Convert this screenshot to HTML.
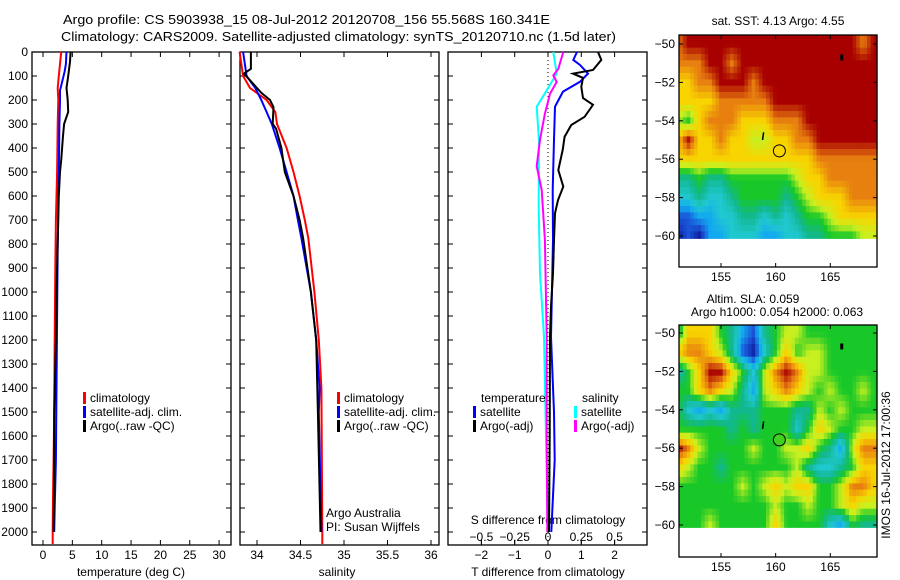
<!DOCTYPE html>
<html><head><meta charset="utf-8"><style>
body{margin:0;background:#fff}
svg{display:block;font-family:"Liberation Sans",sans-serif;font-size:12px}
</style></head><body>
<svg id="fig" width="900" height="580" xmlns="http://www.w3.org/2000/svg">
<rect width="900" height="580" fill="#fff"/>
<text x="63" y="24" font-size="13" textLength="487" lengthAdjust="spacingAndGlyphs">Argo profile: CS 5903938_15 08-Jul-2012 20120708_156 55.568S 160.341E</text>
<text x="61" y="41" font-size="13" textLength="555" lengthAdjust="spacingAndGlyphs">Climatology: CARS2009. Satellite-adjusted climatology: synTS_20120710.nc (1.5d later)</text>
<g id="g"></g>
</svg>
<script>
// ---- data ----
const tDepth=[0,50,100,150,200,300,500,700,900,1200,1500,1700,1850,2000,2050];
const tClim=[3.1,2.9,2.7,2.5,2.6,2.5,2.4,2.2,2.1,2.0,1.9,1.8,1.7,1.65,1.65];
const tSatDepth=[0,50,80,120,160,200,300,500,800,1100,1400,1700,1900,2000];
const tSat=[4.0,3.9,3.7,3.3,2.9,2.9,2.8,2.7,2.5,2.4,2.3,2.2,2.0,1.9];
const tArgoDepth=[0,40,80,100,150,200,250,300,350,450,500,600,800,1000,1200,1500,1800,2000];
const tArgo=[4.7,4.6,4.4,4.3,4.0,4.2,4.3,3.6,3.4,3.1,2.9,2.7,2.5,2.3,2.2,1.9,1.9,1.8];
const sClimDepth=[0,100,150,200,250,300,400,500,600,700,775,1000,1200,1400,2000,2050];
const sClim=[33.80,33.84,33.92,34.11,34.21,34.23,34.34,34.42,34.49,34.55,34.59,34.66,34.71,34.74,34.75,34.75];
const sSatDepth=[0,100,150,200,250,300,400,500,600,700,775,1000,1200,1400,1500,2000];
const sSat=[33.84,33.88,33.98,34.05,34.11,34.17,34.26,34.34,34.42,34.47,34.51,34.62,34.68,34.72,34.71,34.74];
const sArgoDepth=[0,70,90,110,150,170,200,230,300,320,400,500,600,700,775,1000,1200,1500,2000];
const sArgo=[33.93,33.93,33.85,33.90,34.0,34.05,34.15,34.19,34.18,34.22,34.28,34.32,34.42,34.49,34.53,34.62,34.68,34.70,34.73];
const dTArgoDepth=[0,33,75,90,108,145,192,220,270,304,353,408,492,561,617,672,783,922,1061,1187,1600,2000];
const dTArgo=[1.5,1.6,1.35,0.75,1.05,1.0,1.05,1.35,1.1,0.7,0.5,0.44,0.31,0.46,0.3,0.21,0.18,0.15,0.09,0.06,0.05,0.03];
const dTSatDepth=[0,33,54,90,124,165,228,365,575,783,1187,1500,1700,2000];
const dTSat=[0.87,0.76,0.96,1.2,0.96,0.45,0.21,0.18,0.14,0.15,0.09,0.18,0.2,0.1];
const dSSatDepth=[0,90,160,228,365,644,922,1187,1600,2000];
const dSSat=[0.04,0.065,-0.01,-0.085,-0.068,-0.07,-0.06,-0.03,-0.015,0.0];
const dSArgoDepth=[0,70,97,125,174,257,365,476,575,783,1187,1600,2000];
const dSArgo=[0.115,0.077,0.04,0.065,0.015,-0.023,-0.06,-0.085,-0.047,-0.023,-0.01,-0.01,-0.005];
const depthTicks=[0,100,200,300,400,500,600,700,800,900,1000,1100,1200,1300,1400,1500,1600,1700,1800,1900,2000];
const tTicks=[0,5,10,15,20,25,30];
const sTicks=[34,34.5,35,35.5,36];
const sTickLabels=["34","34.5","35","35.5","36"];
const dTTicks=[-2,-1,0,1,2];
const dSTicks=[-0.5,-0.25,0,0.25,0.5];
const dSTickLabels=["-0.5","-0.25","0","0.25","0.5"];
const lonTicks=[155,160,165];
const latTicks=[-50,-52,-54,-56,-58,-60];
const mapLons=[151,152,153,154,155,156,157,158,159,160,161,162,163,164,165,166,167,168,169];
const mapLats=[-50,-51,-52,-53,-54,-55,-56,-57,-58,-59,-60];
const sstGrid=[
[8,9,9,9,9,9,9,9,9,9,9,9,9,9,9,9,9,8,9],
[8,8,8,9,9,8,9,9,9,9,9,9,9,9,9,9,9,9,9],
[7,7,8,8,9,9,9,8,9,9,9,9,9,9,9,9,9,9,9],
[7,7,7,7,8,8,8,8,8,9,9,9,9,9,9,9,9,9,9],
[6,5,7,8,8,8,7,7,7,8,8,8,9,9,9,9,9,9,9],
[7,9,7,7,8,7,7,6,6,7,7,8,8,9,9,9,9,9,9],
[7,7,7,7,7,7,7,7,7,7,7,7,7,8,8,8,8,8,8],
[4,4,5,4,4,5,5,5,5,5,5,6,7,7,8,8,8,8,8],
[3,3,4,3,3,4,5,5,5,5,4,5,6,7,7,7,8,8,8],
[1,1,2,2,3,3,4,4,3,4,3,4,5,5,6,7,7,7,7],
[0,1,0,2,2,3,3,3,2,2,3,3,4,4,5,5,5,6,6]];
const slaGrid=[
[4,7,7,7,5,4,2,1,4,5,6,6,5,5,5,5,5,5,5],
[7,8,8,7,6,4,1,0,3,5,7,5,6,6,5,5,5,5,5],
[3,5,7,9,9,7,5,3,6,8,9,8,6,6,5,5,5,5,5],
[5,5,7,8,7,6,4,2,6,7,8,7,6,5,6,5,5,6,5],
[5,3,2,3,2,4,4,4,5,5,5,4,4,6,5,6,5,5,5],
[5,5,5,5,5,4,5,4,5,5,5,3,5,7,6,5,5,6,6],
[9,8,6,5,5,5,5,6,5,5,6,6,7,5,4,2,6,8,8],
[7,6,5,5,4,5,5,5,5,5,5,6,4,3,3,4,5,7,7],
[5,5,5,5,5,5,6,5,6,7,6,7,7,5,5,6,8,8,7],
[5,5,5,5,5,5,5,5,5,6,5,5,6,5,5,6,7,6,6],
[5,5,5,6,5,5,5,5,5,7,5,5,5,5,3,2,5,4,4]];
const argoLon=160.341, argoLat=-55.568;
const cmap=["#0a1a9a","#1a55d8","#12a8f0","#20c8d0","#12b890","#18c828","#c8f020","#f8d400","#e88010","#a80000"];
</script>
<script>
const NS="http://www.w3.org/2000/svg";
const G=document.getElementById('g');
function mk(tag,attrs,parent){const e=document.createElementNS(NS,tag);for(const k in attrs)e.setAttribute(k,attrs[k]);(parent||G).appendChild(e);return e;}
function txt(x,y,s,anchor,size){const e=mk('text',{x:x,y:y,'text-anchor':anchor||'start','font-size':size||12});e.textContent=s;return e;}
const Y0=52, PY=0.24, TOP=52, BOT=545;
const yD=d=>Y0+d*PY;
const xT=t=>43+5.87*t;
const xS=s=>257+87*(s-34);
const xDT=t=>548+33.3*t;
const xDS=s=>548+133.2*s;
function line(xs,ds,fx,color,name){
  const p=xs.map((v,i)=>fx(v).toFixed(1)+','+yD(ds[i]).toFixed(1)).join(' ');
  const e=mk('polyline',{points:p,fill:'none',stroke:color,'stroke-width':2});
  
  
}
function panel(x0,x1,name){
  const r=mk('rect',{x:x0,y:TOP,width:x1-x0,height:BOT-TOP,fill:'none',stroke:'#000','stroke-width':1.3});
  
  
  depthTicks.forEach(d=>{mk('line',{x1:x0,x2:x0+5,y1:yD(d),y2:yD(d),stroke:'#000'});mk('line',{x1:x1-5,x2:x1,y1:yD(d),y2:yD(d),stroke:'#000'});});
}
panel(32,231,'temperature-panel');
depthTicks.forEach(d=>{const e=txt(28,yD(d)+4,String(d),'end');});
tTicks.forEach(t=>{mk('line',{x1:xT(t),x2:xT(t),y1:TOP,y2:TOP+5,stroke:'#000'});mk('line',{x1:xT(t),x2:xT(t),y1:BOT-5,y2:BOT,stroke:'#000'});const e=txt(xT(t),559,String(t),'middle');});
{const e=txt(131,576,'temperature (deg C)','middle');}
line(tClim,tDepth,xT,'#f00','temp-climatology-line');
line(tSat,tSatDepth,xT,'#00f','temp-satellite-line');
line(tArgo,tArgoDepth,xT,'#000','temp-argo-line');
panel(240,439,'salinity-panel');
sTicks.forEach((s,i)=>{mk('line',{x1:xS(s),x2:xS(s),y1:TOP,y2:TOP+5,stroke:'#000'});mk('line',{x1:xS(s),x2:xS(s),y1:BOT-5,y2:BOT,stroke:'#000'});const e=txt(xS(s),559,sTickLabels[i],'middle');});
{const e=txt(337,576,'salinity','middle');}
line(sClim,sClimDepth,xS,'#f00','sal-climatology-line');
line(sSat,sSatDepth,xS,'#00f','sal-satellite-line');
line(sArgo,sArgoDepth,xS,'#000','sal-argo-line');
panel(448,647,'difference-panel');
mk('line',{x1:xDT(0),x2:xDT(0),y1:TOP,y2:BOT,stroke:'#000','stroke-dasharray':'1,3'});
dTTicks.forEach(t=>{mk('line',{x1:xDT(t),x2:xDT(t),y1:TOP,y2:TOP+5,stroke:'#000'});mk('line',{x1:xDT(t),x2:xDT(t),y1:BOT-5,y2:BOT,stroke:'#000'});const e=txt(xDT(t),559,String(t).replace('-','−'),'middle');});
dSTicks.forEach((s,i)=>{mk('line',{x1:xDS(s),x2:xDS(s),y1:BOT-5,y2:BOT-1,stroke:'#000'});const e=txt(xDS(s),541,dSTickLabels[i].replace('-','−'),'middle');});
{const e=txt(548,524,'S difference from climatology','middle');}
{const e=txt(548,576,'T difference from climatology','middle');}
line(dSSat,dSSatDepth,xDS,'#0ff','s-diff-satellite-line');
line(dSArgo,dSArgoDepth,xDS,'#f0f','s-diff-argo-line');
line(dTSat,dTSatDepth,xDT,'#00f','t-diff-satellite-line');
line(dTArgo,dTArgoDepth,xDT,'#000','t-diff-argo-line');
function leg(x,y,color,label,name){const r=mk('rect',{x:x,y:y-10,width:3,height:12,fill:color});const e=txt(x+7,y,label);}
leg(83,402,'#f00','climatology','legend-climatology-t');
leg(83,416,'#00f','satellite-adj. clim.','legend-satellite-t');
leg(83,430,'#000','Argo(..raw -QC)','legend-argo-t');
leg(337,402,'#f00','climatology','legend-climatology-s');
leg(337,416,'#00f','satellite-adj. clim.','legend-satellite-s');
leg(337,430,'#000','Argo(..raw -QC)','legend-argo-s');
{const e=txt(481,402,'temperature');}
{const e=txt(582,402,'salinity');}
leg(473,416,'#00f','satellite','legend-t-satellite');
leg(473,430,'#000','Argo(-adj)','legend-t-argo');
leg(574,416,'#0ff','satellite','legend-s-satellite');
leg(574,430,'#f0f','Argo(-adj)','legend-s-argo');
{const e=txt(326,517,'Argo Australia');}
{const e=txt(326,531,'PI: Susan Wijffels');}
function hex2rgb(h){return [1,3,5].map(i=>parseInt(h.substr(i,2),16));}
const cm=cmap.map(hex2rgb);
function colorAt(v){v=Math.max(0,Math.min(9,v));const i=Math.min(8,Math.floor(v)),f=v-i;const a=cm[i],b=cm[i+1];return 'rgb('+a.map((c,k)=>Math.round(c+(b[k]-c)*f)).join(',')+')';}
function sample(grid,lon,lat){
  let fi=(lon-mapLons[0]), fj=(-50-lat);
  fi=Math.max(0,Math.min(mapLons.length-1,fi)); fj=Math.max(0,Math.min(mapLats.length-1,fj));
  const i0=Math.min(mapLons.length-2,Math.floor(fi)), j0=Math.min(mapLats.length-2,Math.floor(fj));
  const u=fi-i0, w=fj-j0;
  return grid[j0][i0]*(1-u)*(1-w)+grid[j0][i0+1]*u*(1-w)+grid[j0+1][i0]*(1-u)*w+grid[j0+1][i0+1]*u*w;
}
function map(top,latY50,grid,name,circFill){
  const L=679,R=877,bot=top+232;
  const xL=lon=>721+10.93*(lon-155);
  const yL=lat=>latY50+19.2*(-50-lat);
  const g=mk('g',{});
  
  
  const dlon=0.33, dlat=0.33, yEnd=yL(-60.15);
  for(let lat=-50+(latY50-top)/19.2; lat>-60.15-1e-6; lat-=dlat){
    for(let lon=151.2; lon<169.35; lon+=dlon){
      const y1=Math.max(top,yL(lat)), y2=Math.min(yEnd,yL(lat-dlat));
      const x1=xL(lon), x2=Math.min(R,xL(lon+dlon));
      if(y2<=y1||x2<=x1) continue;
      const c=mk('rect',{x:x1.toFixed(1),y:y1.toFixed(1),width:(x2-x1+0.6).toFixed(1),height:(y2-y1+0.6).toFixed(1),fill:colorAt(sample(grid,lon+dlon/2,lat-dlat/2))},g);
      
      
    }
  }
  mk('rect',{x:L,y:yEnd,width:R-L,height:bot-yEnd,fill:'#fff'});
  const b=mk('rect',{x:L,y:top,width:R-L,height:bot-top,fill:'none',stroke:'#000','stroke-width':1.3});
  
  
  latTicks.forEach(l=>{mk('line',{x1:L,x2:L+4,y1:yL(l),y2:yL(l),stroke:'#000'});mk('line',{x1:R-4,x2:R,y1:yL(l),y2:yL(l),stroke:'#000'});const e=txt(675,yL(l)+4,String(l).replace('-','−'),'end');});
  lonTicks.forEach(l=>{mk('line',{x1:xL(l),x2:xL(l),y1:top,y2:top+4,stroke:'#000'});mk('line',{x1:xL(l),x2:xL(l),y1:bot-4,y2:bot,stroke:'#000'});const e=txt(xL(l),bot+14,String(l),'middle');});
  const c=mk('circle',{cx:xL(argoLon),cy:yL(argoLat),r:6,fill:circFill,stroke:'#000','stroke-width':1});
  
  
  mk('rect',{x:xL(166)-1,y:yL(-50.7)-3,width:3,height:6,fill:'#000'});
  mk('line',{x1:xL(158.9),x2:xL(158.8),y1:yL(-54.6),y2:yL(-55),stroke:'#000','stroke-width':1.5});
}
map(35,44,sstGrid,'sst-map','none');
map(325,333,slaGrid,'sla-map','#40d020');
{const e=txt(778,25,'sat. SST: 4.13 Argo: 4.55','middle');}
{const e=txt(753,303,'Altim. SLA: 0.059','middle');}
{const e=txt(777,316,'Argo h1000: 0.054 h2000: 0.063','middle');}
{const e=txt(0,0,'IMOS 16-Jul-2012 17:00:36','middle');e.setAttribute('transform','translate(890,465) rotate(-90)');}
</script>
</body></html>
